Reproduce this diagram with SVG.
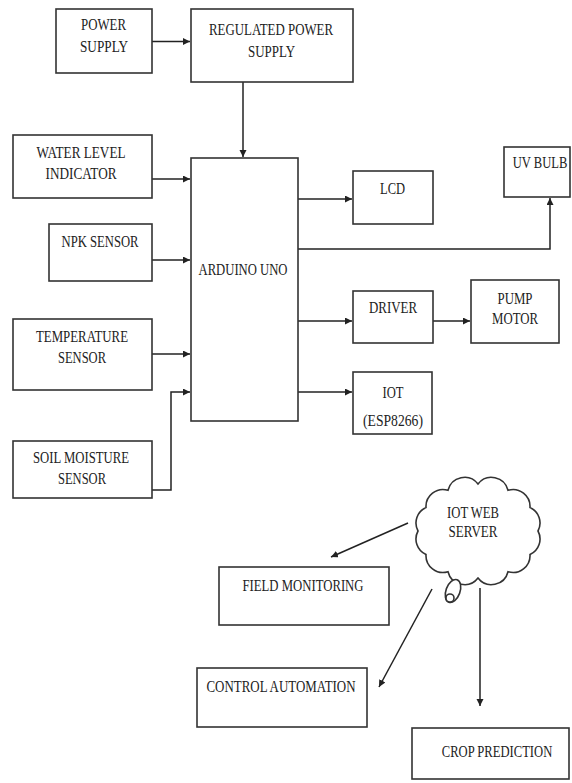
<svg xmlns="http://www.w3.org/2000/svg" width="572" height="783" viewBox="0 0 572 783">
<style>
.box{fill:#fff;stroke:#333;stroke-width:1.6}
.t{font-family:"Liberation Serif","Times New Roman",serif;font-size:16.5px;fill:#222;text-anchor:middle}
.s{font-size:12.6px}
.c{fill:none;stroke:#222;stroke-width:1.5;marker-end:url(#ah)}
</style>
<defs>
<marker id="ah" markerUnits="userSpaceOnUse" markerWidth="8" markerHeight="8" refX="7" refY="3.5" orient="auto">
<path d="M0,0 L7,3.5 L0,7 z" fill="#222"/>
</marker>
</defs>
<rect width="572" height="783" fill="#fff"/>
<g id="connectors">
<path class="c" d="M152,41.5 H190"/>
<path class="c" d="M243,82 V157"/>
<path class="c" d="M152,179 H190"/>
<path class="c" d="M152,260 H190"/>
<path class="c" d="M152,354 H190"/>
<path class="c" d="M152,490 H171 V392 H190"/>
<path class="c" d="M298,199 H352"/>
<path class="c" d="M298,249 H550 V198"/>
<path class="c" d="M298,321 H352"/>
<path class="c" d="M433,321 H470"/>
<path class="c" d="M298,392 H352"/>
<path class="c" d="M408,523 L331,557"/>
<path class="c" d="M432,589 L379,687"/>
<path class="c" d="M480,588 V706"/>
</g>
<g id="power-supply">
<rect class="box" x="56" y="9" width="96" height="64"/>
<text class="t" x="103.5" y="30" textLength="45" lengthAdjust="spacingAndGlyphs">POWER</text>
<text class="t" x="104" y="52" textLength="48" lengthAdjust="spacingAndGlyphs">SUPPLY</text>
</g>
<g id="regulated-power-supply">
<rect class="box" x="191" y="9" width="162" height="73"/>
<text class="t" x="271" y="35" textLength="124" lengthAdjust="spacingAndGlyphs">REGULATED POWER</text>
<text class="t" x="271.5" y="57" textLength="47" lengthAdjust="spacingAndGlyphs">SUPPLY</text>
</g>
<g id="water-level">
<rect class="box" x="13" y="135" width="139" height="63"/>
<text class="t" x="81" y="158" textLength="89" lengthAdjust="spacingAndGlyphs">WATER LEVEL</text>
<text class="t" x="81" y="179" textLength="71" lengthAdjust="spacingAndGlyphs">INDICATOR</text>
</g>
<g id="npk-sensor">
<rect class="box" x="49" y="224" width="103" height="57"/>
<text class="t" x="100" y="247" textLength="77" lengthAdjust="spacingAndGlyphs">NPK SENSOR</text>
</g>
<g id="temperature-sensor">
<rect class="box" x="13" y="319" width="139" height="71"/>
<text class="t" x="82" y="342" textLength="92" lengthAdjust="spacingAndGlyphs">TEMPERATURE</text>
<text class="t" x="82" y="363" textLength="48" lengthAdjust="spacingAndGlyphs">SENSOR</text>
</g>
<g id="soil-moisture-sensor">
<rect class="box" x="13" y="441" width="139" height="57"/>
<text class="t" x="81" y="463" textLength="96" lengthAdjust="spacingAndGlyphs">SOIL MOISTURE</text>
<text class="t" x="82" y="484" textLength="48" lengthAdjust="spacingAndGlyphs">SENSOR</text>
</g>
<g id="arduino-uno">
<rect class="box" x="191" y="158" width="107" height="263"/>
<text class="t" x="243" y="275" textLength="89" lengthAdjust="spacingAndGlyphs">ARDUINO UNO</text>
</g>
<g id="lcd">
<rect class="box" x="353" y="171" width="80" height="53"/>
<text class="t" x="392.5" y="194" textLength="25" lengthAdjust="spacingAndGlyphs">LCD</text>
</g>
<g id="uv-bulb">
<rect class="box" x="504" y="147" width="66" height="50"/>
<text class="t s" transform="translate(540,168) scale(1,1.3)" x="0" y="0">UV BULB</text>
</g>
<g id="driver">
<rect class="box" x="353" y="291" width="80" height="52"/>
<text class="t" x="393" y="313" textLength="48" lengthAdjust="spacingAndGlyphs">DRIVER</text>
</g>
<g id="pump-motor">
<rect class="box" x="471" y="280" width="88" height="63"/>
<text class="t" x="515" y="304" textLength="35" lengthAdjust="spacingAndGlyphs">PUMP</text>
<text class="t" x="515" y="324" textLength="46" lengthAdjust="spacingAndGlyphs">MOTOR</text>
</g>
<g id="iot">
<rect class="box" x="353" y="372" width="79" height="62"/>
<text class="t" x="393" y="398" textLength="21" lengthAdjust="spacingAndGlyphs">IOT</text>
<text class="t" x="393" y="426" textLength="60" lengthAdjust="spacingAndGlyphs">(ESP8266)</text>
</g>
<g id="iot-web-server">
<path class="box" d="M418,531 A17,17 0 0 1 426,507.5 A17,17 0 0 1 448,490.3 A17,17 0 0 1 478,484 A17,17 0 0 1 508,490.3 A17,17 0 0 1 530,507.5 A17,17 0 0 1 538,531 A17,17 0 0 1 530,554.5 A17,17 0 0 1 508,571.7 A17,17 0 0 1 478,578 A17,17 0 0 1 448,571.7 A17,17 0 0 1 426,554.5 A17,17 0 0 1 418,531 Z"/>
<ellipse class="box" cx="453" cy="591" rx="7" ry="12" transform="rotate(20 453 591)"/>
<circle class="box" cx="450" cy="598" r="4"/>
<text class="t" x="473" y="518" textLength="52" lengthAdjust="spacingAndGlyphs">IOT WEB</text>
<text class="t" x="473" y="537" textLength="49" lengthAdjust="spacingAndGlyphs">SERVER</text>
</g>
<g id="field-monitoring">
<rect class="box" x="219" y="567" width="170" height="58"/>
<text class="t" x="303" y="591" textLength="121" lengthAdjust="spacingAndGlyphs">FIELD MONITORING</text>
</g>
<g id="control-automation">
<rect class="box" x="197" y="668" width="170" height="59"/>
<text class="t" x="281" y="692" textLength="149" lengthAdjust="spacingAndGlyphs">CONTROL AUTOMATION</text>
</g>
<g id="crop-prediction">
<rect class="box" x="412" y="728" width="157" height="51"/>
<text class="t s" transform="translate(497,757) scale(1,1.3)" x="0" y="0">CROP PREDICTION</text>
</g>
</svg>
